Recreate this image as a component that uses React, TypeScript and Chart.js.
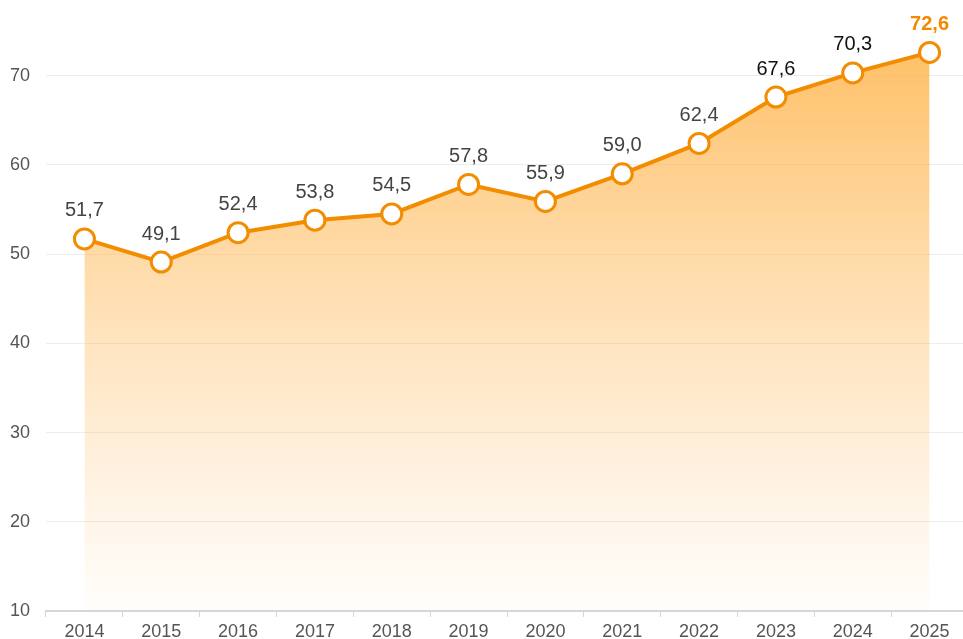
import React, { useEffect, useRef } from "react";
import { Chart, registerables } from "chart.js";

Chart.register(...registerables);

const years = ["2014", "2015", "2016", "2017", "2018", "2019", "2020", "2021", "2022", "2023", "2024", "2025"];
const values = [51.7, 49.1, 52.4, 53.8, 54.5, 57.8, 55.9, 59.0, 62.4, 67.6, 70.3, 72.6];
const labelColors = ["#444", "#444", "#444", "#444", "#444", "#444", "#444", "#444", "#444", "#111", "#111", "#f28a00"];
const yTicks = [10, 20, 30, 40, 50, 60, 70];

const ORANGE = "#f28c00";
const FONT = "'Liberation Sans', Arial, sans-serif";

const valueLabels = {
  id: "valueLabels",
  afterDatasetsDraw(chart: any) {
    const ctx = chart.ctx;
    const meta = chart.getDatasetMeta(0);
    ctx.save();
    ctx.textAlign = "center";
    ctx.textBaseline = "middle";
    meta.data.forEach((pt: any, i: number) => {
      const last = i === values.length - 1;
      ctx.font = (last ? "bold " : "") + "20px " + FONT;
      ctx.fillStyle = labelColors[i];
      ctx.fillText(values[i].toFixed(1).replace(".", ","), pt.x, pt.y - 28);
    });
    ctx.restore();
  },
};

export default function App() {
  const ref = useRef<HTMLCanvasElement>(null);
  useEffect(() => {
    if (!ref.current) return;
    const chart = new Chart(ref.current, {
      type: "line",
      data: {
        labels: years,
        datasets: [
          {
            data: values,
            borderColor: ORANGE,
            borderWidth: 4,
            fill: "start",
            backgroundColor: (c: any) => {
              const area = c.chart.chartArea;
              if (!area) return "rgba(255,180,80,0.5)";
              const g = c.chart.ctx.createLinearGradient(0, area.top, 0, area.bottom);
              g.addColorStop(0, "rgba(255,178,70,0.85)");
              g.addColorStop(0.5, "rgba(255,190,100,0.45)");
              g.addColorStop(1, "rgba(255,200,130,0.03)");
              return g;
            },
            pointRadius: 10,
            pointHoverRadius: 10,
            pointBorderWidth: 3,
            pointBackgroundColor: "#fff",
            pointBorderColor: ORANGE,
            tension: 0,
          },
        ],
      },
      options: {
        animation: false,
        responsive: true,
        maintainAspectRatio: false,
        layout: { autoPadding: false, padding: { top: 23, right: 0, left: 0, bottom: 0 } },
        plugins: { legend: { display: false }, tooltip: { enabled: false } },
        scales: {
          x: {
            offset: true,
            afterFit: (s: any) => {
              s.height = 28;
              s.paddingLeft = 0;
              s.paddingRight = 0;
            },
            grid: {
              offset: true,
              drawOnChartArea: false,
              drawTicks: true,
              tickLength: 6,
              color: "#d6d6d6",
            },
            border: { display: true, color: "#d6d6d6", width: 2 },
            ticks: { color: "#555", font: { size: 18, family: FONT }, padding: 4, maxRotation: 0 },
          },
          y: {
            min: 10,
            max: 75,
            afterFit: (s: any) => {
              s.width = 38;
              s.paddingTop = 0;
              s.paddingBottom = 0;
            },
            afterBuildTicks: (s: any) => {
              s.ticks = yTicks.map((v) => ({ value: v }));
            },
            grid: { color: "#ededed", drawTicks: false, lineWidth: 1 },
            border: { display: false },
            ticks: { color: "#555", font: { size: 18, family: FONT }, padding: 16 },
          },
        },
      },
      plugins: [valueLabels],
    });
    return () => chart.destroy();
  }, []);
  return (
    <div style={{ position: "fixed", left: 8, top: 8, width: 955, height: 631, overflow: "hidden" }}>
      <div style={{ position: "relative", width: 960, height: 631 }}>
        <canvas ref={ref} />
      </div>
    </div>
  );
}
